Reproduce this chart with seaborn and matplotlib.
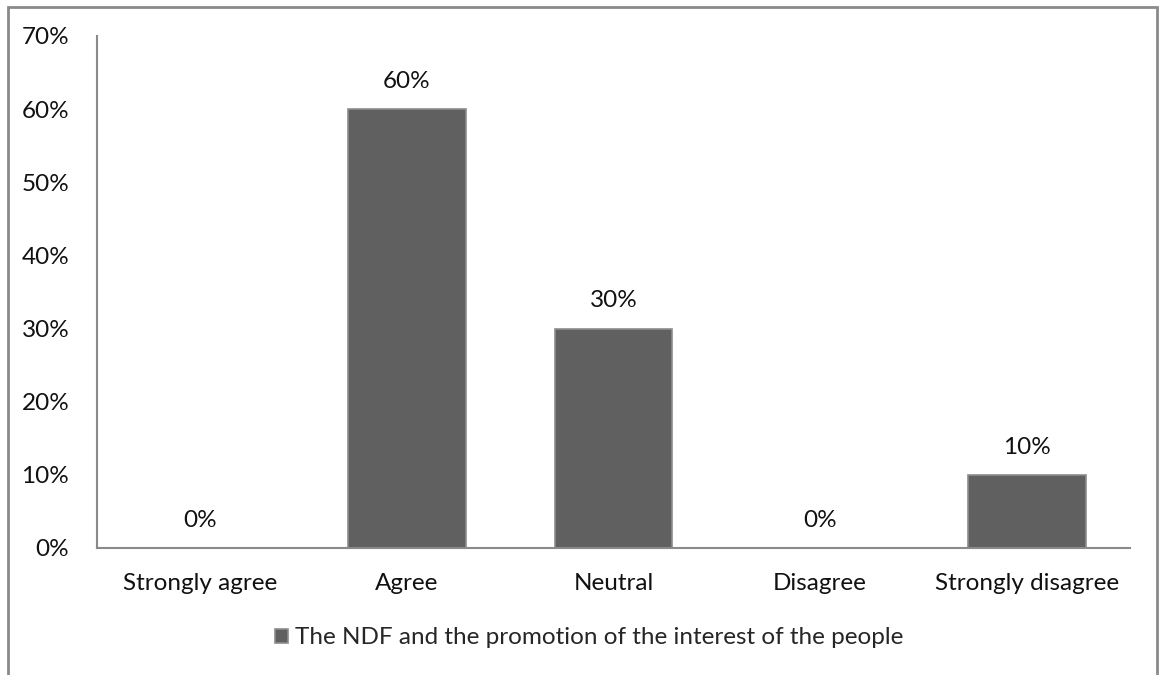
import matplotlib
matplotlib.use('Agg')
import matplotlib.pyplot as plt
import matplotlib.patches as mpatches
import seaborn as sns
import pandas as pd

categories = ['Strongly agree', 'Agree', 'Neutral', 'Disagree', 'Strongly disagree']
values = [0, 60, 30, 0, 10]
series_name = 'The NDF and the promotion of the interest of the people'

df = pd.DataFrame({'answer': categories, 'pct': values, 'series': series_name})

sns.set_style('white')
plt.rcParams['font.family'] = ['Lato', 'DejaVu Sans']
fs = 17.5

fig = plt.figure(figsize=(11.6, 6.75), dpi=100)
ax = fig.add_axes([97 / 1160, 1 - 548 / 675, (1130 - 97) / 1160, (548 - 36) / 675])

sns.barplot(data=df, x='answer', y='pct', hue='series', palette=['#606060'],
            width=0.57, edgecolor='#8c8c8c', linewidth=1.2, ax=ax, legend=True)

# value labels
for bar, v in zip(ax.patches, values):
    ax.annotate(f'{v}%', (bar.get_x() + bar.get_width() / 2, bar.get_height()),
                xytext=(0, 20), textcoords='offset points', ha='center', va='center',
                fontsize=fs, color='#111111')

ax.set_ylim(0, 70)
ax.set_yticks(range(0, 71, 10))
ax.set_yticklabels([f'{t}%' for t in range(0, 71, 10)])
ax.set_xlabel('')
ax.set_ylabel('')
ax.tick_params(axis='both', length=0, labelsize=fs, colors='#111111')
ax.tick_params(axis='x', pad=18)
ax.tick_params(axis='y', pad=20)

for s in ['top', 'right']:
    ax.spines[s].set_visible(False)
for s in ['left', 'bottom']:
    ax.spines[s].set_color('#8a8a8a')
    ax.spines[s].set_linewidth(1.5)

handles, labels = ax.get_legend_handles_labels()
ax.get_legend().remove()
fig.legend(handles, labels, loc='center', bbox_to_anchor=(0.508, 1 - 638 / 675),
           frameon=False, fontsize=fs, handlelength=0.55, handleheight=0.55,
           handletextpad=0.3)

# outer chart frame
frame = mpatches.Rectangle((8 / 1160, -0.05), (1157 - 8) / 1160, 1.05 - 7 / 675,
                           transform=fig.transFigure, fill=False,
                           edgecolor='#8a8a8a', linewidth=2, clip_on=False)
fig.patches.append(frame)

fig.savefig('out.png', dpi=100)
